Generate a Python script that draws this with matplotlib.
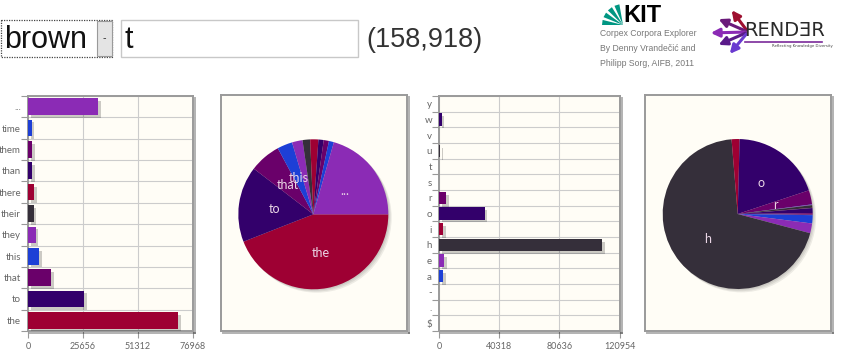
import matplotlib

matplotlib.use("Agg")
import matplotlib.pyplot as plt
import matplotlib.patheffects as pe
from matplotlib.patches import Rectangle, Circle, Polygon
import numpy as np

W, H = 850, 354

# word continuations after "t"
words = ["the", "to", "that", "this", "they", "their", "there", "than", "them", "time", "..."]
word_counts = [70000, 26000, 10700, 5200, 3600, 2600, 2800, 1800, 1800, 1700, 32700]
word_ticks = [0, 25656, 51312, 76968]

# next letter after "t"
letters = ["$", ".", "-", "a", "e", "h", "i", "o", "r", "s", "t", "u", "v", "w", "y"]
letter_counts = [30, 150, 200, 2800, 3300, 109300, 2700, 30600, 4800, 100, 150, 900, 80, 1700, 300]
letter_ticks = [0, 40318, 80636, 120954]

total_label = "(158,918)"

palette = ["#9e0033", "#33006b", "#6a006a", "#1d3fd6", "#8b2bb5", "#352f3a"]
cream = "#fffdf6"
tick_font = "Lato"


def px_axes(fig, x0, y0, x1, y1):
    return fig.add_axes([x0 / W, 1 - y1 / H, (x1 - x0) / W, (y1 - y0) / H])


def frame_style(ax):
    shadow = [pe.SimpleLineShadow(offset=(1.5, -1.5), alpha=0.3), pe.Normal()]
    for name, s in ax.spines.items():
        s.set_color("#9a9a9a")
        s.set_linewidth(1.4)
        if name in ("right", "bottom"):
            s.set_path_effects(shadow)


def bar_panel(ax, labels, values, ticks):
    n = len(labels)
    y = np.arange(n)
    colors = [palette[i % len(palette)] for i in range(n)]
    bars = ax.barh(y, values, height=0.78, color=colors, zorder=3)
    for b in bars:
        b.set_path_effects([pe.SimplePatchShadow(offset=(2, -2), shadow_rgbFace="k", alpha=0.2), pe.Normal()])
    ax.set_facecolor(cream)
    ax.set_ylim(-0.5, n - 0.5)
    ax.set_xlim(ticks[0], ticks[-1])
    ax.set_yticks(y)
    ax.set_yticklabels(labels, fontfamily=tick_font)
    ax.set_yticks(np.arange(n + 1) - 0.5, minor=True)
    ax.set_xticks(ticks)
    ax.set_xticklabels([str(t) for t in ticks], fontfamily=tick_font)
    ax.tick_params(axis="y", which="major", length=0, pad=5, labelsize=7, labelcolor="#666666")
    ax.tick_params(axis="y", which="minor", length=5, color="#999999", width=0.8)
    ax.tick_params(axis="x", length=5, color="#999999", width=0.8, labelsize=6.5, labelcolor="#666666", pad=3)
    ax.grid(True, which="minor", axis="y", color="#cccccc", lw=0.8, zorder=0)
    ax.grid(True, which="major", axis="x", color="#cccccc", lw=0.8, zorder=0)
    ax.set_axisbelow(True)
    frame_style(ax)


def pie_panel(ax, labels, values, lims):
    total = sum(values)
    shown = [l if v / total >= 0.03 else "" for l, v in zip(labels, values)]
    colors = [palette[i % len(palette)] for i in range(len(values))]
    for k in range(3):
        d = 0.015 * (k + 1)
        ax.add_patch(Circle((d, -d), 1.0, color="k", alpha=0.07, zorder=0, lw=0))
    ax.pie(values, labels=shown, colors=colors, startangle=0, counterclock=False,
           labeldistance=0.52, radius=1.0, wedgeprops=dict(linewidth=0),
           textprops=dict(color="#ead6e6", fontsize=9, ha="center", va="center", family=tick_font))
    ax.set_aspect("auto")
    ax.set_xlim(lims[0], lims[1])
    ax.set_ylim(lims[2], lims[3])
    ax.set_frame_on(True)
    ax.set_facecolor(cream)
    ax.set_xticks([])
    ax.set_yticks([])
    frame_style(ax)


fig = plt.figure(figsize=(W / 100, H / 100), dpi=100)
fig.patch.set_facecolor("white")

ax1 = px_axes(fig, 28, 96, 193, 331)
bar_panel(ax1, words, word_counts, word_ticks)

ax2 = px_axes(fig, 221, 95, 407, 331)
pie_panel(ax2, words, word_counts, (-1.231, 1.249, -1.556, 1.591))

ax3 = px_axes(fig, 439, 96, 619.5, 331)
bar_panel(ax3, letters, letter_counts, letter_ticks)

ax4 = px_axes(fig, 645, 95, 831, 331)
pie_panel(ax4, letters, letter_counts, (-1.236, 1.244, -1.56, 1.587))

# header drawn in pixel coordinates
hd = fig.add_axes([0, 0, 1, 1], zorder=-1)
hd.set_xlim(0, W)
hd.set_ylim(H, 0)
hd.axis("off")

hd.add_patch(Rectangle((0.5, 20), 112, 37, facecolor="white", edgecolor="#444444", lw=0.9, ls=(0, (1, 1))))
hd.add_patch(Rectangle((97, 21), 15, 35, facecolor="#e4e4e4", edgecolor="#9a9a9a", lw=0.8))
hd.text(104.5, 38, "-", ha="center", va="center", fontsize=7, color="#333333")
hd.text(4, 39.5, "brown", ha="left", va="center", fontsize=22, family="Liberation Sans", color="#111111")

hd.add_patch(Rectangle((121, 20), 237, 37, facecolor="white", edgecolor="#c8c8c8", lw=1))
hd.text(125, 39.5, "t", ha="left", va="center", fontsize=22, family="Liberation Sans", color="#111111")
hd.text(366, 40, total_label, ha="left", va="center", fontsize=19.5, family="Liberation Sans", color="#333333")

# KIT logo
for ang0 in [100, 122, 144, 166]:
    a0, a1 = np.radians(ang0), np.radians(ang0 + 14)
    r = 21
    cx, cy = 623, 25
    hd.add_patch(Polygon([(cx, cy), (cx + r * np.cos(a0), cy - r * np.sin(a0)),
                          (cx + r * np.cos(a1), cy - r * np.sin(a1))],
                         closed=True, facecolor="#009682", lw=0))
hd.text(623, 15, "KIT", ha="left", va="center", fontsize=17, fontweight="bold",
        family="Liberation Sans", color="black")
for i, line in enumerate(["Corpex Corpora Explorer", "By Denny Vrandečić and", "Philipp Sorg, AIFB, 2011"]):
    hd.text(600, 34 + i * 14.5, line, ha="left", va="center", fontsize=6.2,
            family="Liberation Sans", color="#777777")

# RENDER logo
arrows = [((748, 32), (730, 8), "#9e1030"), ((748, 32), (716, 18), "#6a1a7a"),
          ((748, 32), (708, 33), "#8b2bb5"), ((748, 32), (716, 46), "#5a1a8a"),
          ((748, 32), (728, 56), "#6a3ad0")]
for start, end, col in arrows:
    hd.annotate("", xy=end, xytext=start,
                arrowprops=dict(arrowstyle="-|>,head_width=0.25,head_length=0.5", color=col, lw=2.2))
hd.plot([745, 822], [42, 42], color="#7a2a9a", lw=1.2)
hd.text(744, 31, "RENDƎR", ha="left", va="center", fontsize=14, family="DejaVu Sans",
        color="#2a2a2a")
hd.text(772, 46.5, "Reflecting Knowledge Diversity", ha="left", va="center", fontsize=2.8,
        family="DejaVu Sans", color="#444444")

fig.savefig("out.png", dpi=100)
plt.close(fig)
